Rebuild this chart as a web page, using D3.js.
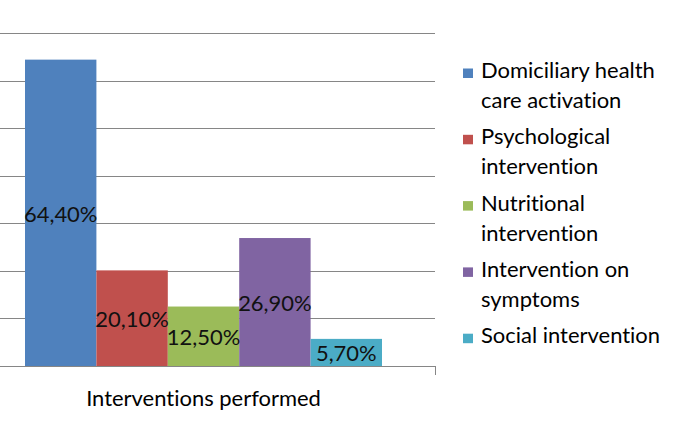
<!DOCTYPE html>
<html>
<head>
<meta charset="utf-8">
<script src="https://cdn.jsdelivr.net/npm/d3@7"></script>
<style>
  html, body { margin: 0; padding: 0; background: #fff; }
  svg { display: block; }
  text { font-variant-ligatures: none; font-feature-settings: "liga" 0, "clig" 0; }
</style>
</head>
<body>
<svg id="chart" width="677" height="422"></svg>
<script>
// ---- data ----
const categoryLabel = "Interventions performed";
const seriesNames = [
  "Domiciliary health care activation",
  "Psychological intervention",
  "Nutritional intervention",
  "Intervention on symptoms",
  "Social intervention"
];
const legendLines = [
  ["Domiciliary health", "care activation"],
  ["Psychological", "intervention"],
  ["Nutritional", "intervention"],
  ["Intervention on", "symptoms"],
  ["Social intervention"]
];
const seriesValues = [64.4, 20.1, 12.5, 26.9, 5.7];
const valueLabels = ["64,40%", "20,10%", "12,50%", "26,90%", "5,70%"];
const seriesColors = ["#4F81BD", "#C0504D", "#9BBB59", "#8064A2", "#4BACC6"];
const yTicks = [0, 10, 20, 30, 40, 50, 60, 70];

// ---- layout ----
const svg = d3.select("#chart");
const FONT = "Lato, 'Open Sans', sans-serif";

// fit font size so that the legend's first line matches the reference width
const probe = svg.append("text").attr("font-family", FONT).attr("font-size", 100).text("Domiciliary health");
const probeW = probe.node().getComputedTextLength();
probe.remove();
const fs = 100 * 174 / probeW;

const plotLeft = 0, plotRight = 435;
const y = d3.scaleLinear().domain([0, 70]).range([366, 33]);
const x = d3.scaleBand().domain(seriesNames).range([25, 382]).padding(0);

// gridlines
svg.append("g").selectAll("line").data(yTicks).join("line")
  .attr("x1", plotLeft).attr("x2", plotRight)
  .attr("y1", d => Math.round(y(d)) + 0.5).attr("y2", d => Math.round(y(d)) + 0.5)
  .attr("stroke", "#868686").attr("stroke-width", 1);

// bars
svg.append("g").selectAll("rect").data(seriesNames).join("rect")
  .attr("x", d => x(d))
  .attr("width", x.bandwidth())
  .attr("y", (d, i) => y(seriesValues[i]))
  .attr("height", (d, i) => y(0) - y(seriesValues[i]))
  .attr("fill", (d, i) => seriesColors[i]);

// x axis line + end tick
const xAxisG = svg.append("g");
xAxisG.append("line")
  .attr("x1", plotLeft).attr("x2", plotRight + 0.5)
  .attr("y1", Math.round(y(0)) + 0.5).attr("y2", Math.round(y(0)) + 0.5)
  .attr("stroke", "#868686");
xAxisG.append("line")
  .attr("x1", plotRight + 0.5).attr("x2", plotRight + 0.5)
  .attr("y1", y(0)).attr("y2", y(0) + 9)
  .attr("stroke", "#868686");

// value labels
svg.append("g").selectAll("text").data(seriesNames).join("text")
  .attr("x", d => x(d) + x.bandwidth() / 2)
  .attr("y", (d, i) => (y(seriesValues[i]) + y(0)) / 2 + 0.5)
  .attr("text-anchor", "middle")
  .attr("dominant-baseline", "central")
  .attr("font-family", FONT).attr("font-size", fs)
  .attr("fill", "#111")
  .text((d, i) => valueLabels[i]);

// axis title
svg.append("text")
  .attr("x", (25 + 382) / 2).attr("y", 406)
  .attr("text-anchor", "middle")
  .attr("font-family", FONT).attr("font-size", fs)
  .attr("fill", "#000")
  .text(categoryLabel);

// legend
const lg = svg.append("g");
const items = lg.selectAll("g").data(seriesNames).join("g")
  .attr("transform", (d, i) => `translate(0, ${78 + i * 66.3})`);
items.append("rect")
  .attr("x", 463).attr("y", -9.5).attr("width", 10).attr("height", 9.5)
  .attr("fill", (d, i) => seriesColors[i]);
items.each(function (d, i) {
  const t = d3.select(this).append("text")
    .attr("x", 481).attr("y", 0)
    .attr("font-family", FONT).attr("font-size", fs)
    .attr("fill", "#000");
  legendLines[i].forEach((ln, j) => {
    t.append("tspan").attr("x", 481).attr("y", j * 30).text(ln);
  });
});
</script>
</body>
</html>
